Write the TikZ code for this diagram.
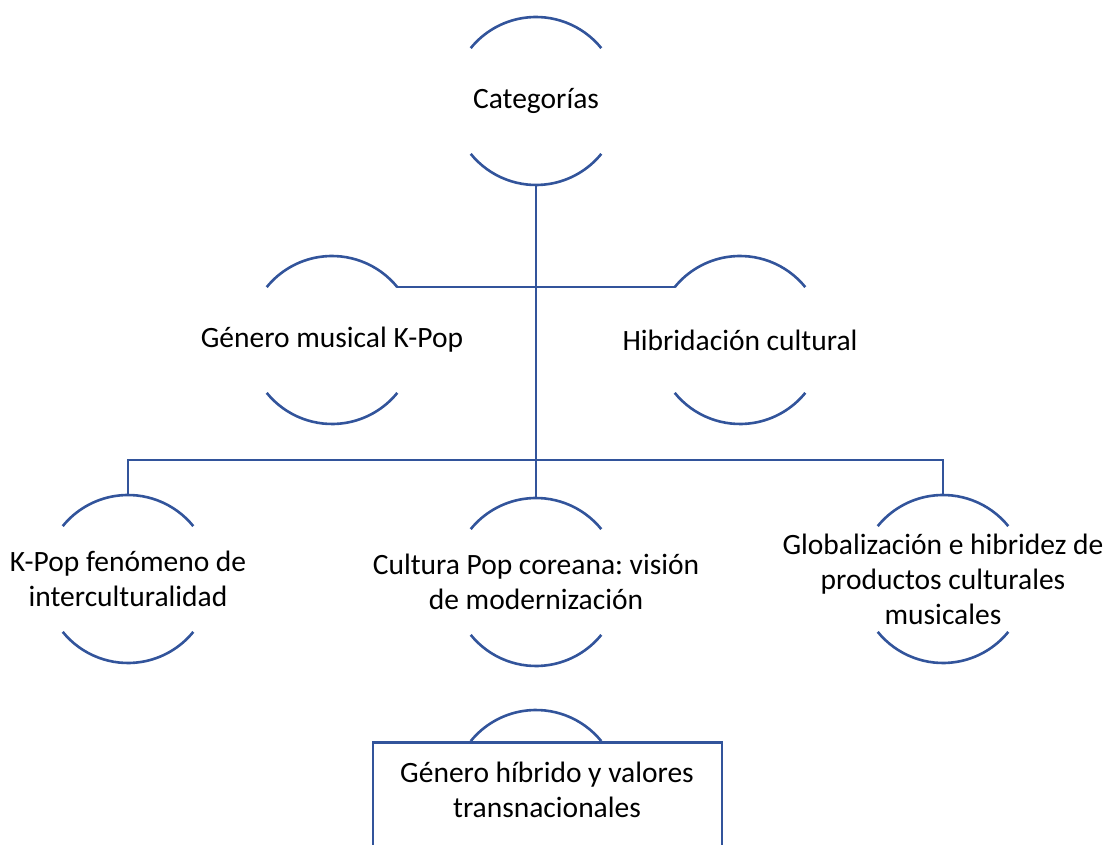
\documentclass[tikz,border=0pt]{standalone}
\usepackage{fontspec}
\setmainfont{Carlito}
\usetikzlibrary{calc,positioning}
\definecolor{ringblue}{RGB}{50,84,155}
\frenchspacing

\tikzset{
  ring/.style={draw=ringblue, line width=2.6pt},
  link/.style={draw=ringblue, line width=2.6pt},
  txt/.style={align=center, inner sep=0pt, font=\fontsize{29.5}{35}\selectfont},
  hbox/.style={draw=ringblue, line width=2.6pt, fill=white, minimum width=349pt, minimum height=220pt, anchor=north}
}

% two arcs round a text node, plus named ends for the links
\newcommand{\ringarcs}[1]{%
  \draw[ring] ($(#1.center)+(39:84pt)$) arc[start angle=39, end angle=141, radius=84pt];
  \draw[ring] ($(#1.center)+(219:84pt)$) arc[start angle=219, end angle=321, radius=84pt];
  \coordinate (#1-t) at ($(#1.center)+(0,84pt)$);
  \coordinate (#1-b) at ($(#1.center)+(0,-84pt)$);
  \coordinate (#1-tr) at ($(#1.center)+(39:84pt)$);
  \coordinate (#1-tl) at ($(#1.center)+(141:84pt)$);
}

\begin{document}
\begin{tikzpicture}[x=1pt, y=1pt]
  \useasboundingbox (0,0) rectangle (1105,844);

  % Top
  \node[txt] (cat) at (536,743) {Categorías};
  \ringarcs{cat}

  % Second row
  \node[txt] (musica) at (332,504) {Género musical K-Pop};
  \ringarcs{musica}
  \node[txt] (hibr) at (740,504) {Hibridación cultural};
  \ringarcs{hibr}

  % Third row
  \node[txt] (kpop) at (128,265) {K-Pop fenómeno de\\interculturalidad};
  \ringarcs{kpop}
  \node[txt] (cult) at (536,262) {Cultura Pop coreana: visión\\de modernización};
  \ringarcs{cult}
  \node[txt] (glob) at (943,265) {Globalización e hibridez de\\productos culturales\\musicales};
  \ringarcs{glob}

  % Links
  \coordinate (bar) at (536,384);
  \draw[link] (cat-b) -- (cult-t);
  \draw[link] (musica-tr) -- (hibr-tl);
  \draw[link] (kpop-t) -- (kpop-t |- bar) -- (glob-t |- bar) -- (glob-t);
  \draw[link] (cult-t) -- (cult-t |- bar);

  % Bottom box over its ring
  \coordinate (gh) at (536,50);
  \draw[ring] ($(gh)+(39:84pt)$) arc[start angle=39, end angle=141, radius=84pt];
  \node[hbox] (genbox) at (547.5,103) {};
  \node[txt] (genh) at (547,54) {Género híbrido y valores\\transnacionales};
\end{tikzpicture}
\end{document}
